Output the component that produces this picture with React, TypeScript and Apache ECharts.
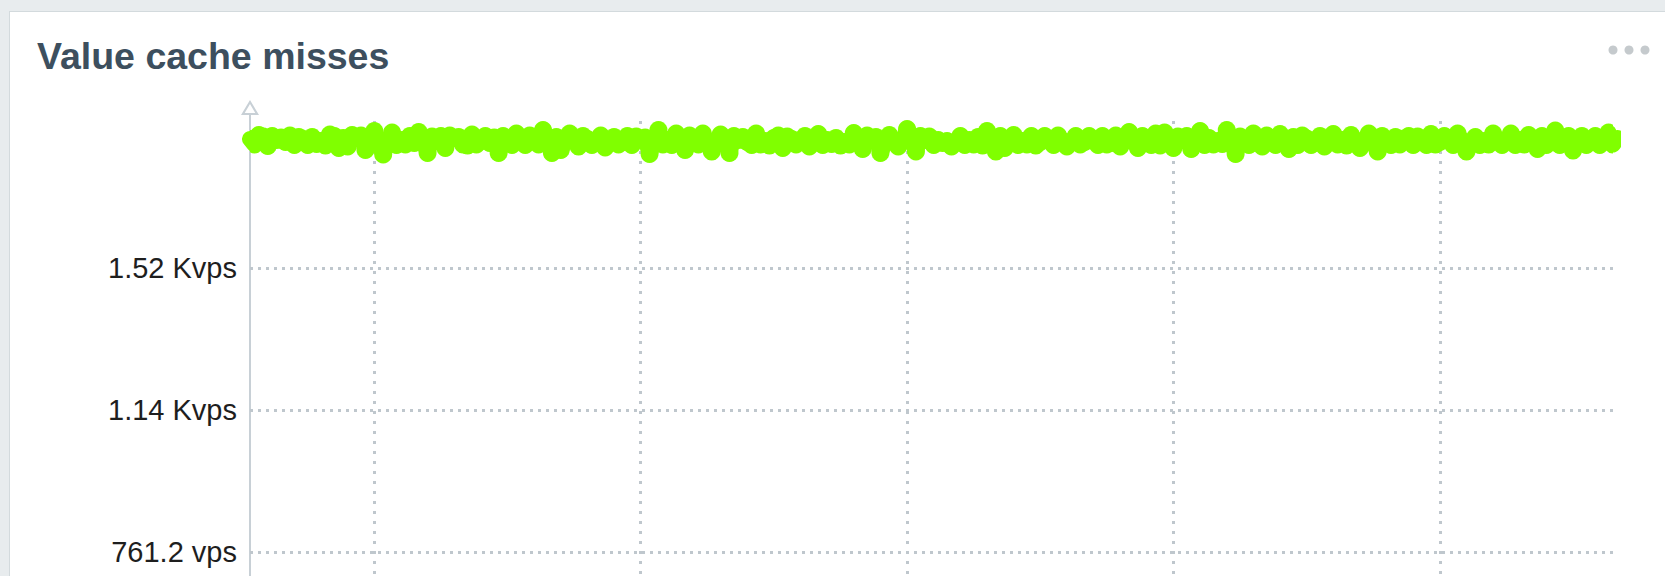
import React, { useEffect, useRef } from "react";
import * as echarts from "echarts";

// ---- data ----
const chartTitle = "Value cache misses";
const startMinute = 752; // 12:32, minutes since midnight
const stepMinutes = 1;
const missesVps = [
  1868.2, 1853.4, 1878.9, 1874.8, 1849.4, 1876.2, 1865.5, 1872.1, 1860.1, 1877.5,
  1852.1, 1873.5, 1868.2, 1852.1, 1873.5, 1854.8, 1862.8, 1850.8, 1880.2, 1876.2,
  1844.0, 1870.8, 1848.1, 1878.9, 1873.5, 1877.5, 1838.7, 1862.8, 1889.6, 1860.1,
  1826.6, 1857.4, 1885.6, 1852.1, 1865.5, 1853.4, 1876.2, 1857.4, 1886.9, 1862.8,
  1830.7, 1874.8, 1862.8, 1876.2, 1844.0, 1877.5, 1870.8, 1873.5, 1853.4, 1850.8,
  1880.2, 1853.4, 1862.8, 1876.2, 1857.4, 1872.1, 1830.7, 1876.2, 1868.2, 1852.1,
  1882.9, 1865.5, 1852.1, 1877.5, 1865.5, 1853.4, 1892.3, 1860.1, 1830.7, 1873.5,
  1838.7, 1862.8, 1882.9, 1865.5, 1848.1, 1876.2, 1868.2, 1852.1, 1862.8, 1877.5,
  1845.4, 1860.1, 1873.5, 1853.4, 1860.1, 1876.2, 1852.1, 1874.8, 1868.2, 1872.1,
  1828.0, 1860.1, 1892.3, 1853.4, 1865.5, 1852.1, 1882.9, 1862.8, 1838.7, 1877.5,
  1868.2, 1853.4, 1882.9, 1860.1, 1834.7, 1857.4, 1880.2, 1865.5, 1830.7, 1876.2,
  1865.5, 1873.5, 1860.1, 1852.1, 1882.9, 1853.4, 1862.8, 1850.8, 1870.8, 1877.5,
  1844.0, 1874.8, 1868.2, 1853.4, 1862.8, 1876.2, 1848.1, 1860.1, 1881.6, 1852.1,
  1865.5, 1854.8, 1870.8, 1850.8, 1860.1, 1853.4, 1884.2, 1865.5, 1841.4, 1877.5,
  1868.2, 1873.5, 1830.7, 1857.4, 1878.9, 1862.8, 1848.1, 1862.8, 1895.0, 1865.5,
  1834.7, 1876.2, 1865.5, 1874.8, 1852.1, 1865.5, 1857.4, 1862.8, 1848.1, 1860.1,
  1876.2, 1852.1, 1865.5, 1853.4, 1873.5, 1850.8, 1889.6, 1862.8, 1834.7, 1876.2,
  1844.0, 1860.1, 1878.9, 1852.1, 1862.8, 1853.4, 1876.2, 1850.8, 1860.1, 1876.2,
  1868.2, 1852.1, 1877.5, 1862.8, 1848.1, 1860.1, 1876.2, 1853.4, 1860.1, 1876.2,
  1865.5, 1852.1, 1876.2, 1853.4, 1857.4, 1877.5, 1848.1, 1862.8, 1886.9, 1865.5,
  1844.0, 1876.2, 1868.2, 1852.1, 1882.9, 1850.8, 1885.6, 1862.8, 1844.0, 1874.8,
  1865.5, 1876.2, 1841.4, 1860.1, 1889.6, 1852.1, 1870.8, 1853.4, 1862.8, 1854.8,
  1892.3, 1862.8, 1828.0, 1874.8, 1865.5, 1852.1, 1882.9, 1865.5, 1848.1, 1877.5,
  1865.5, 1852.1, 1881.6, 1862.8, 1841.4, 1873.5, 1852.1, 1877.5, 1869.5, 1852.1,
  1862.8, 1876.2, 1848.1, 1860.1, 1881.6, 1853.4, 1865.5, 1850.8, 1878.9, 1862.8,
  1844.0, 1865.5, 1882.9, 1857.4, 1834.7, 1876.2, 1862.8, 1852.1, 1873.5, 1853.4,
  1869.5, 1876.2, 1852.1, 1874.8, 1862.8, 1852.1, 1881.6, 1853.4, 1860.1, 1876.2,
  1868.2, 1852.1, 1882.9, 1862.8, 1834.7, 1857.4, 1873.5, 1852.1, 1862.8, 1853.4,
  1882.9, 1865.5, 1852.1, 1862.8, 1882.9, 1852.1, 1865.5, 1853.4, 1878.9, 1865.5,
  1841.4, 1876.2, 1852.1, 1860.1, 1890.9, 1852.1, 1862.8, 1876.2, 1837.3, 1860.1,
  1876.2, 1852.1, 1865.5, 1876.2, 1852.1, 1862.8, 1885.6, 1853.4, 1870.8,
];
const yTickValues = [761.2, 1141.8, 1522.4];
const yStep = 380.6;
const yMin = 380.6;
const yMax = 1932.5;
const xGridMinutes = [780, 840, 900, 960, 1020];
const xMin = 752;
const xMax = 1059;

const FONT = "'Liberation Sans', Arial, Helvetica, sans-serif";
const GREEN = "#80ff00";
const GRID_COLOR = "#bfc7cd";
const AXIS_COLOR = "#c8d0d6";

const arrowPath =
  "path://M9 0 L18 15 L0 15 Z M9 4 L3.7 13 L14.3 13 Z";

function formatVps(v: number): string {
  return v >= 1000 ? (v / 1000).toFixed(2) + " Kvps" : v.toFixed(1) + " vps";
}

export default function App() {
  const ref = useRef<HTMLDivElement>(null);

  useEffect(() => {
    if (!ref.current) return;
    const chart = echarts.init(ref.current, undefined, { renderer: "svg" });
    const points = missesVps.map((v, i) => [startMinute + i * stepMinutes, v]);

    chart.setOption({
      animation: false,
      backgroundColor: "transparent",
      title: {
        text: chartTitle,
        left: 37,
        top: 37,
        padding: 0,
        textStyle: {
          fontFamily: FONT,
          fontSize: 37.5,
          fontWeight: "bold",
          color: "#3d4f5e",
        },
      },
      graphic: [
        { type: "circle", shape: { cx: 1613, cy: 50, r: 4.5 }, style: { fill: "#c5cacd" } },
        { type: "circle", shape: { cx: 1629, cy: 50, r: 4.5 }, style: { fill: "#c5cacd" } },
        { type: "circle", shape: { cx: 1645, cy: 50, r: 4.5 }, style: { fill: "#c5cacd" } },
      ],
      grid: { left: 250, right: 52, top: 115, bottom: 0, containLabel: false },
      xAxis: {
        type: "value",
        min: xMin,
        max: xMax,
        show: false,
        axisLine: { onZero: false },
      },
      yAxis: {
        type: "value",
        min: yMin,
        max: yMax,
        interval: yStep,
        axisLine: {
          show: true,
          onZero: false,
          symbol: ["none", arrowPath],
          symbolSize: [18, 15],
          symbolOffset: [0, 7.5],
          lineStyle: { color: AXIS_COLOR, width: 2 },
        },
        axisTick: { show: false },
        splitLine: { show: false },
        axisLabel: {
          margin: 13,
          fontSize: 29,
          fontFamily: FONT,
          color: "#1e1e1e",
          padding: [0, 0, 4, 0],
          formatter: (v: number) =>
            yTickValues.some((t) => Math.abs(t - v) < 0.01) ? formatVps(v) : "",
        },
      },
      series: [
        {
          type: "line",
          data: points,
          showSymbol: false,
          silent: true,
          clip: true,
          z: 2,
          lineStyle: { color: GREEN, width: 16, cap: "round", join: "round" },
          markLine: {
            silent: true,
            z: 1,
            symbol: ["none", "none"],
            label: { show: false },
            lineStyle: { color: GRID_COLOR, width: 3, type: [3, 5] },
            data: [
              ...yTickValues.map((v) => ({ yAxis: v })),
              ...xGridMinutes.map((t) => ({
                xAxis: t,
                lineStyle: { color: GRID_COLOR, width: 3, type: [3, 7] },
              })),
            ],
          },
        },
        {
          type: "custom",
          data: points,
          silent: true,
          clip: true,
          z: 3,
          renderItem: (params: any, api: any) => {
            const p = api.coord([api.value(0), api.value(1)]);
            return {
              type: "circle",
              shape: { cx: p[0], cy: p[1], r: 9 },
              style: { fill: GREEN },
            };
          },
        },
      ],
    });

    return () => chart.dispose();
  }, []);

  return (
    <div
      style={{
        position: "fixed",
        left: 0,
        top: 0,
        width: 1665,
        height: 576,
        overflow: "hidden",
        background: "#e8ecee",
      }}
    >
      <div
        style={{
          position: "absolute",
          left: 9,
          top: 11,
          width: 1720,
          height: 700,
          background: "#ffffff",
          border: "1px solid #d3dadd",
          boxSizing: "border-box",
        }}
      />
      <div
        ref={ref}
        style={{ position: "absolute", left: 0, top: 0, width: 1665, height: 694 }}
      />
    </div>
  );
}
